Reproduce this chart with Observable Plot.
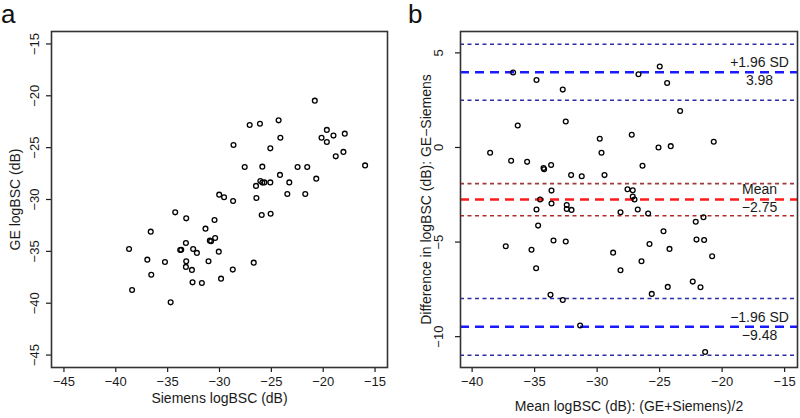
<!DOCTYPE html>
<html>
<head>
<meta charset="utf-8">
<script src="https://cdn.jsdelivr.net/npm/d3@7"></script>
<script src="https://cdn.jsdelivr.net/npm/@observablehq/plot@0.6"></script>
<style>
  html, body { margin: 0; padding: 0; background: #fff; }
  #wrap { position: relative; width: 800px; height: 418px; overflow: hidden; font-family: "Liberation Sans", Arial, sans-serif; }
  .panel { position: absolute; top: 0; }
  .letter { position: absolute; top: 0; font-size: 26px; line-height: 29px; color: #111; }
</style>
</head>
<body>
<div id="wrap">
  <div class="letter" style="left:1px;">a</div>
  <div class="letter" style="left:408px;">b</div>
  <div id="pa" class="panel" style="left:0px;"></div>
  <div id="pb" class="panel" style="left:400px;"></div>
</div>
<script>
// Panel a: Siemens vs GE logBSC (dB)
const siemens = [-20.81,-27.09,-26.10,-24.30,-19.65,-17.92,-19.01,-20.16,-24.13,-19.65,-28.65,-25.10,-18.05,-18.79,-15.96,-27.57,-25.87,-22.47,-21.54,-24.17,-20.67,-26.06,-25.87,-25.67,-25.10,-23.27,-26.48,-23.46,-21.73,-30.03,-29.56,-28.69,-26.44,-25.93,-25.07,-34.27,-33.21,-30.48,-36.63,-31.35,-30.42,-30.93,-30.81,-33.24,-38.72,-33.79,-33.69,-32.54,-32.18,-30.07,-36.96,-35.26,-33.21,-31.06,-26.70,-33.24,-32.66,-28.72,-36.58,-29.85,-32.60,-31.70,-38.43,-34.71];
const ge = [-20.47,-22.81,-22.69,-22.37,-23.29,-23.65,-23.84,-24.04,-24.04,-24.45,-24.74,-25.07,-25.41,-25.84,-26.71,-26.86,-26.83,-26.86,-26.86,-27.63,-27.99,-28.21,-28.37,-28.35,-28.35,-28.35,-28.69,-29.47,-29.47,-29.53,-29.79,-30.14,-29.85,-31.49,-31.37,-31.24,-31.82,-31.97,-33.10,-32.81,-33.71,-33.97,-34.03,-34.19,-34.77,-34.87,-34.84,-34.77,-35.15,-35.03,-35.80,-36.02,-35.96,-35.96,-36.09,-36.50,-36.79,-36.76,-37.25,-37.63,-37.99,-38.05,-38.72,-39.92];

// Panel b: Bland-Altman
const meanVals = [-24.99,-36.72,-26.69,-34.85,-24.40,-32.75,-23.36,-36.35,-32.51,-27.23,-29.79,-20.67,-24.11,-25.09,-38.56,-29.65,-36.88,-35.60,-33.68,-34.29,-34.24,-26.37,-32.08,-31.23,-29.41,-27.57,-27.15,-27.15,-27.01,-33.65,-34.56,-33.65,-32.43,-32.43,-32.05,-34.85,-26.75,-28.13,-25.92,-21.49,-22.11,-34.72,-24.69,-37.31,-33.49,-32.51,-22.05,-21.44,-25.81,-24.21,-35.25,-28.72,-20.80,-34.88,-28.13,-26.45,-22.35,-24.35,-21.73,-33.73,-32.75,-25.63,-31.36,-21.36];
const diffVals = [4.28,3.96,3.87,3.57,3.41,3.06,1.93,1.16,1.37,0.67,0.46,0.30,0.07,0.00,-0.28,-0.28,-0.70,-0.76,-0.93,-1.09,-1.15,-0.97,-1.46,-1.52,-1.46,-2.21,-2.26,-2.59,-2.75,-2.28,-2.75,-2.96,-3.04,-3.25,-3.30,-3.28,-3.28,-3.42,-3.49,-3.69,-3.93,-4.13,-4.43,-5.22,-4.92,-4.97,-4.87,-4.89,-5.10,-5.36,-5.41,-5.56,-5.75,-6.38,-6.49,-6.01,-7.09,-7.37,-7.39,-7.79,-8.06,-7.74,-9.41,-10.81];

const limitValues = [3.98, -2.75, -9.48];
const limitTopLabels = ["+1.96 SD", "Mean", "\u22121.96 SD"];
const limitBottomLabels = ["3.98", "\u22122.75", "\u22129.48"];
const limitKinds = ["sd", "mean", "sd"];
const ciSdLines = [5.46, 2.50, -7.98, -10.98];
const ciMeanUpper = [-1.91];
const ciMeanLower = [-3.61];

const ticksA = [-45, -40, -35, -30, -25, -20, -15];
const ticksBx = [-40, -35, -30, -25, -20, -15];
const ticksBy = [-10, -5, 0, 5];

const labelAx = "Siemens logBSC (dB)";
const labelAy = "GE logBSC (dB)";
const labelBx = "Mean logBSC (dB): (GE+Siemens)/2";
const labelBy = "Difference in logBSC (dB): GE\u2212Siemens";

const font = "'Liberation Sans', Arial, sans-serif";
const ink = "#1a1a1a";

const ptsA = siemens.map((s, i) => ({x: s, y: ge[i]}));
const ptsB = meanVals.map((m, i) => ({x: m, y: diffVals[i]}));
const limits = limitValues.map((v, i) => ({v, top: limitTopLabels[i], bottom: limitBottomLabels[i], kind: limitKinds[i]}));

const dotStyle = {r: 2.4, stroke: "#000", strokeWidth: 1.3, fill: "none"};

const plotA = Plot.plot({
  width: 400, height: 418,
  marginLeft: 51, marginRight: 13, marginTop: 31, marginBottom: 51,
  style: {fontFamily: font, fontSize: "13px", color: ink, background: "transparent", overflow: "visible"},
  x: {domain: [-46.2, -13.8]},
  y: {domain: [-46.2, -13.8]},
  marks: [
    Plot.axisX(ticksA, {tickSize: 5, tickPadding: 4, fontSize: 13, label: null, stroke: ink, strokeWidth: 1.2}),
    Plot.axisY(ticksA, {tickSize: 5, tickRotate: -90, tickPadding: 8, fontSize: 13, label: null, stroke: ink, strokeWidth: 1.2}),
    Plot.frame({stroke: "#333", strokeWidth: 1.6}),
    Plot.text([labelAx], {text: d => d, frameAnchor: "bottom", lineAnchor: "middle", textAnchor: "middle", dy: 31, fontSize: 14, fill: ink}),
    Plot.text([labelAy], {text: d => d, frameAnchor: "left", lineAnchor: "middle", textAnchor: "middle", dx: -36, rotate: -90, fontSize: 14, fill: ink}),
    Plot.dot(ptsA, {x: "x", y: "y", ...dotStyle})
  ]
});
document.getElementById("pa").appendChild(plotA);

const plotB = Plot.plot({
  width: 400, height: 418,
  marginLeft: 60, marginRight: 3, marginTop: 31, marginBottom: 51,
  style: {fontFamily: font, fontSize: "13px", color: ink, background: "transparent", overflow: "visible"},
  x: {domain: [-40.93, -13.97]},
  y: {domain: [-11.63, 6.13]},
  marks: [
    Plot.axisX(ticksBx, {tickSize: 5, tickPadding: 4, fontSize: 13, label: null, stroke: ink, strokeWidth: 1.2}),
    Plot.axisY(ticksBy, {tickSize: 5, tickRotate: -90, tickPadding: 13, fontSize: 13, label: null, stroke: ink, strokeWidth: 1.2}),
    Plot.ruleY(ciSdLines, {stroke: "#2b2fa6", strokeWidth: 1.6, strokeDasharray: "4,3.5"}),
    Plot.ruleY(ciMeanUpper, {stroke: "#a03a3e", strokeWidth: 1.6, strokeDasharray: "4,3.5"}),
    Plot.ruleY(ciMeanLower, {stroke: "#b42a2a", strokeWidth: 1.6, strokeDasharray: "4,3.5"}),
    Plot.ruleY(limits, {y: "v", stroke: d => d.kind === "mean" ? "#ff1a1a" : "#1a1aff", strokeWidth: 2.6, strokeDasharray: "9,6"}),
    Plot.frame({stroke: "#333", strokeWidth: 1.6}),
    Plot.text(limits, {y: "v", text: "top", frameAnchor: "right", textAnchor: "middle", lineAnchor: "middle", dx: -38, dy: -9.5, fontSize: 14, fill: ink}),
    Plot.text(limits, {y: "v", text: "bottom", frameAnchor: "right", textAnchor: "middle", lineAnchor: "middle", dx: -38, dy: 8.5, fontSize: 14, fill: ink}),
    Plot.text([labelBx], {text: d => d, frameAnchor: "bottom", lineAnchor: "middle", textAnchor: "middle", dy: 39, fontSize: 14, fill: ink}),
    Plot.text([labelBy], {text: d => d, frameAnchor: "left", lineAnchor: "middle", textAnchor: "middle", dx: -34, rotate: -90, fontSize: 14, fill: ink}),
    Plot.dot(ptsB, {x: "x", y: "y", ...dotStyle})
  ]
});
document.getElementById("pb").appendChild(plotB);
</script>
</body>
</html>
